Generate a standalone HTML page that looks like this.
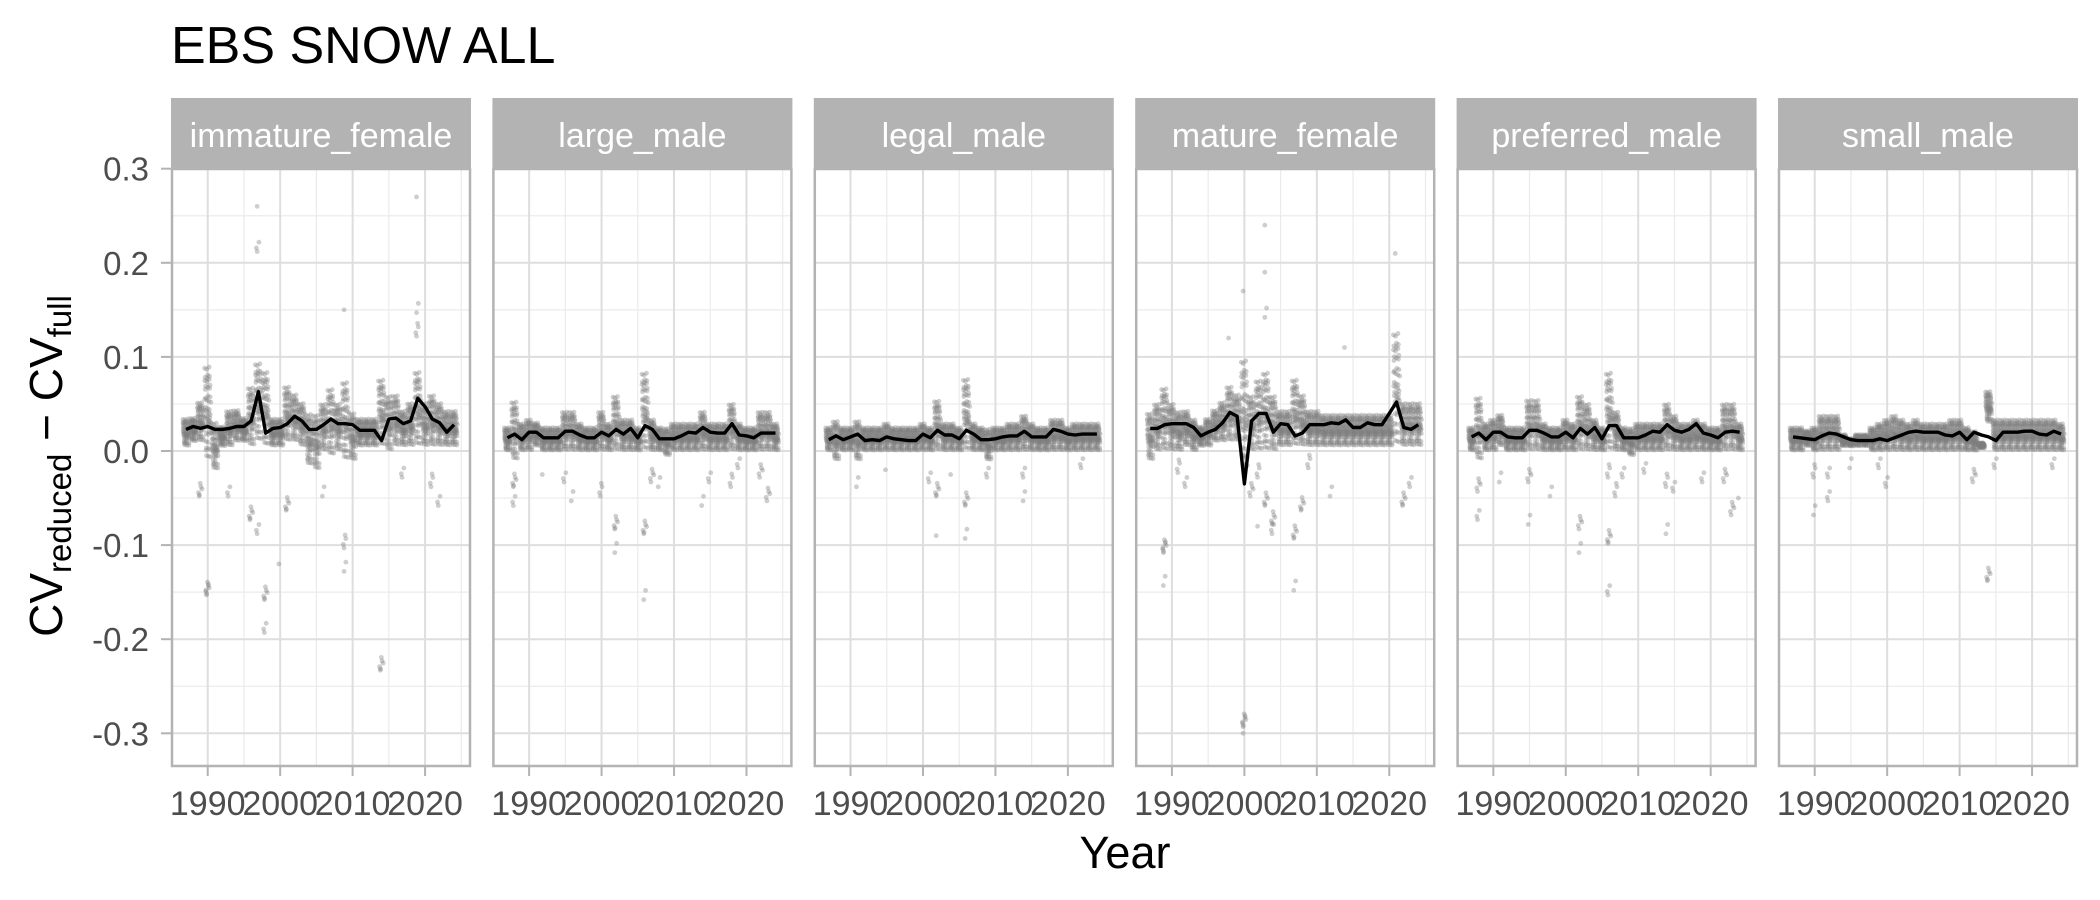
<!DOCTYPE html>
<html><head><meta charset="utf-8"><style>
body{margin:0;background:#fff;}
svg{display:block;font-family:"Liberation Sans",Arial,sans-serif;}
</style></head><body>
<svg id="chart" width="2100" height="900" xmlns="http://www.w3.org/2000/svg">
<rect width="2100" height="900" fill="#fff"/>
<text x="171" y="63" font-size="52" fill="#000">EBS SNOW ALL</text>
<text x="1125" y="868" font-size="45" text-anchor="middle" fill="#000">Year</text>
<text transform="translate(62,466) rotate(-90)" text-anchor="middle" font-size="46" fill="#000">CV<tspan font-size="33" dy="9">reduced</tspan><tspan dy="-9"> − CV</tspan><tspan font-size="33" dy="9">full</tspan></text>
<g id="panels"></g>
</svg>
<script>
const panelNames = ["immature_female","large_male","legal_male","mature_female","preferred_male","small_male"];
const years = [1987,1988,1989,1990,1991,1992,1993,1994,1995,1996,1997,1998,1999,2000,2001,2002,2003,2004,2005,2006,2007,2008,2009,2010,2011,2012,2013,2014,2015,2016,2017,2018,2019,2020,2021,2022,2023,2024];
const yTicks = [0.3,0.2,0.1,0.0,-0.1,-0.2,-0.3];
const yTickLabels = ["0.3","0.2","0.1","0.0","-0.1","-0.2","-0.3"];
const xTicks = [1990,2000,2010,2020];
const xTickLabels = ["1990","2000","2010","2020"];
const yMinor = [0.25,0.15,0.05,-0.05,-0.15,-0.25];
const xMinor = [1995,2005,2015,2025];

const meanImmatureFemale = [.023,.026,.024,.026,.023,.023,.024,.026,.026,.032,.063,.019,.024,.025,.029,.037,.032,.023,.023,.028,.034,.029,.029,.028,.022,.022,.022,.011,.034,.035,.029,.032,.056,.047,.034,.030,.020,.028];
const meanLargeMale = [.014,.018,.012,.020,.020,.014,.014,.014,.021,.021,.017,.014,.014,.020,.016,.023,.018,.024,.014,.027,.023,.013,.013,.013,.016,.020,.019,.025,.020,.019,.019,.029,.017,.016,.014,.019,.019,.019];
const meanLegalMale = [.012,.016,.012,.015,.018,.011,.012,.011,.015,.013,.012,.011,.011,.018,.014,.022,.017,.017,.013,.022,.018,.012,.012,.013,.015,.016,.016,.021,.015,.015,.015,.023,.021,.018,.017,.018,.018,.018];
const meanMatureFemale = [.024,.024,.028,.029,.029,.029,.025,.016,.020,.023,.030,.041,.037,-.035,.032,.040,.040,.020,.029,.028,.016,.019,.028,.028,.028,.030,.029,.033,.025,.025,.030,.028,.028,.040,.052,.025,.023,.028];
const meanPreferredMale = [.015,.019,.012,.020,.020,.015,.014,.014,.022,.022,.019,.015,.015,.020,.014,.024,.018,.025,.013,.027,.027,.014,.014,.014,.017,.021,.020,.028,.022,.020,.023,.029,.019,.017,.014,.020,.021,.020];
const meanSmallMale = [.015,.014,.013,.012,.016,.019,.018,.015,.012,.011,.011,.011,.013,.011,.014,.017,.020,.021,.020,.020,.020,.017,.016,.020,.012,.020,.017,.015,.011,.020,.020,.020,.021,.021,.018,.017,.021,.018];

const hiImmatureFemale = [.04,.04,.06,.11,.04,.03,.05,.05,.04,.08,.11,.10,.04,.04,.08,.07,.06,.05,.05,.06,.08,.06,.09,.05,.04,.04,.04,.09,.07,.07,.05,.06,.10,.06,.07,.06,.05,.05];
const loImmatureFemale = [.005,.01,.01,-.01,-.02,.005,.005,.01,.01,.005,.01,.005,.005,.005,.01,.01,.005,-.015,-.02,.0,-.005,.0,-.01,-.01,.005,.005,.005,.005,.0,.005,.005,.005,.005,.005,.005,.005,.005,.005];
const hiLargeMale = [.03,.065,.035,.04,.035,.03,.03,.03,.05,.05,.035,.03,.03,.05,.035,.07,.04,.04,.03,.10,.04,.03,.03,.035,.035,.035,.035,.05,.035,.035,.035,.06,.035,.03,.03,.05,.05,.035];
const loLargeMale = [.0,-.01,.0,.0,.005,.0,.0,.0,.0,.0,.0,.0,.0,.0,.0,.0,.0,.0,.0,.0,.0,.0,-.005,.0,.0,.0,.0,.0,.0,.0,.0,.0,.0,.0,.0,.0,.0,.0];
const hiLegalMale = [.03,.04,.03,.03,.04,.03,.03,.03,.035,.03,.03,.03,.03,.035,.03,.064,.035,.035,.03,.092,.035,.03,.03,.03,.03,.035,.035,.045,.035,.03,.03,.04,.04,.03,.035,.035,.035,.035];
const loLegalMale = [.0,-.01,.0,.0,-.01,.0,.0,.0,.0,.0,.0,.0,.0,.0,.0,.0,.0,.0,.0,.0,.0,.0,-.01,.0,.0,.0,.0,.0,.0,.0,.0,.0,.0,.0,.0,.0,.0,.0];
const hiMatureFemale = [.05,.06,.08,.06,.05,.05,.04,.03,.04,.05,.06,.08,.07,.12,.07,.09,.10,.07,.05,.05,.09,.07,.05,.05,.045,.045,.045,.045,.045,.045,.045,.045,.045,.045,.15,.06,.06,.06];
const loMatureFemale = [-.01,.0,.0,.0,.0,.005,.0,.005,.005,.01,.01,.01,.01,-.02,.0,.0,.0,.0,.005,.005,.005,.005,.005,.005,.005,.005,.005,.005,.005,.005,.005,.005,.005,.005,.005,.005,.005,.005];
const hiPreferredMale = [.03,.07,.035,.04,.045,.03,.03,.03,.065,.065,.035,.03,.03,.04,.035,.07,.06,.04,.03,.10,.05,.03,.03,.035,.035,.035,.035,.06,.045,.035,.035,.04,.035,.03,.03,.06,.06,.035];
const loPreferredMale = [.0,-.01,.0,.0,.005,.0,.0,.0,.0,.0,.0,.0,.0,.0,.0,.0,.0,.0,.0,.0,.0,.0,-.005,.0,.0,.0,.0,.0,.0,.0,.0,.0,.0,.0,.0,.0,.0,.0];
const hiSmallMale = [.03,.03,.025,.03,.045,.045,.045,.02,.015,.02,.02,.03,.035,.04,.045,.04,.035,.04,.035,.035,.035,.035,.04,.04,.03,.025,.01,.07,.04,.04,.04,.04,.04,.04,.04,.04,.04,.035];
const loSmallMale = [.0,.0,.005,.0,.0,.0,.0,.005,.005,.005,.005,.0,.0,.0,.0,.0,.0,.0,.0,.0,.0,.0,.0,.0,.0,.0,.003,.03,.0,.0,.0,.0,.0,.0,.0,.0,.0,.0];

const outImmatureFemale = [[1989,-0.04,6],[1990,-0.145,8],[1996,-0.065,6],[1997,-0.08,3],[1998,-0.15,6],[1998,-0.185,3],[1997,0.22,3],[1997,0.26,1],[2001,-0.055,6],[2009,-0.095,4],[2009,-0.12,2],[2014,-0.225,6],[2019,0.27,1],[2019,0.13,4],[2019,0.155,2],[2021,-0.03,4],[2022,-0.05,3],[2006,-0.04,2],[2000,-0.12,1],[2009,0.15,1],[1993,-0.04,3],[2017,-0.02,3]];
const outLargeMale = [[1988,-0.03,6],[1988,-0.05,3],[1992,-0.025,1],[1995,-0.025,3],[1996,-0.045,2],[2000,-0.04,4],[2002,-0.075,6],[2002,-0.1,2],[2006,-0.08,6],[2006,-0.15,2],[2007,-0.025,5],[2008,-0.03,2],[2014,-0.05,2],[2015,-0.025,3],[2018,-0.03,4],[2019,-0.01,3],[2022,-0.02,5],[2023,-0.045,5]];
const outLegalMale = [[1991,-0.03,2],[2001,-0.025,3],[2002,-0.04,6],[2002,-0.09,1],[2006,-0.05,6],[2006,-0.085,2],[2009,-0.02,3],[2014,-0.02,3],[2014,-0.045,2],[2022,-0.01,3],[1995,-0.02,1],[2004,-0.025,1]];
const outMatureFemale = [[1989,-0.1,8],[1989,-0.135,2],[1991,-0.015,4],[1992,-0.03,3],[2000,-0.285,8],[2000,-0.3,1],[2001,-0.04,5],[2002,-0.02,4],[2003,-0.05,6],[2004,-0.07,6],[2004,-0.08,3],[2007,-0.085,6],[2007,-0.14,2],[2008,-0.055,6],[2009,-0.01,4],[2012,-0.04,2],[2022,-0.05,6],[2023,-0.03,3],[2003,0.24,1],[2003,0.19,1],[2003,0.15,2],[2000,0.17,1],[2021,0.21,1],[1998,0.12,1],[2002,-0.08,1],[2014,0.11,1]];
const outPreferredMale = [[1988,-0.035,5],[1988,-0.065,3],[1991,-0.025,2],[1995,-0.025,5],[1995,-0.07,2],[1998,-0.04,2],[2002,-0.075,5],[2002,-0.1,2],[2006,-0.09,6],[2006,-0.145,3],[2006,-0.02,4],[2007,-0.04,4],[2008,-0.02,3],[2011,-0.015,3],[2014,-0.03,4],[2014,-0.08,2],[2015,-0.035,3],[2019,-0.025,3],[2022,-0.025,5],[2023,-0.06,5],[2024,-0.05,1]];
const outSmallMale = [[1990,-0.02,4],[1990,-0.06,2],[1992,-0.045,3],[1992,-0.02,3],[1995,-0.01,2],[1999,-0.01,3],[2000,-0.03,3],[2012,-0.025,5],[2014,-0.13,6],[2015,-0.01,3],[2023,-0.01,3]];

const means = [meanImmatureFemale,meanLargeMale,meanLegalMale,meanMatureFemale,meanPreferredMale,meanSmallMale];
const his = [hiImmatureFemale,hiLargeMale,hiLegalMale,hiMatureFemale,hiPreferredMale,hiSmallMale];
const los = [loImmatureFemale,loLargeMale,loLegalMale,loMatureFemale,loPreferredMale,loSmallMale];
const outs = [outImmatureFemale,outLargeMale,outLegalMale,outMatureFemale,outPreferredMale,outSmallMale];

const NS="http://www.w3.org/2000/svg";
const PX0=172, PSTEP=321.4, PW=298, PTOP=169, PBOT=766, STRIPTOP=98;
const XMIN=1985.07, XMAX=2026.2, YZERO=451, YPER=941;
function yS(v){return YZERO - v*YPER;}
function mk(tag,attrs,parent){const e=document.createElementNS(NS,tag);for(const k in attrs)e.setAttribute(k,attrs[k]);parent.appendChild(e);return e;}
const root=document.getElementById('panels');
const yAxis=mk('g',{},root);


yTicks.forEach((t,i)=>{
  mk('line',{x1:161,x2:172,y1:yS(t),y2:yS(t),stroke:'#B3B3B3','stroke-width':2},yAxis);
  const tx=mk('text',{x:149,y:yS(t)+12,'font-size':33,'text-anchor':'end',fill:'#4D4D4D'},yAxis);
  tx.textContent=yTickLabels[i];
});
panelNames.forEach((name,p)=>{
  const left=PX0+p*PSTEP;
  const xS=yr=>left+(yr-XMIN)/(XMAX-XMIN)*PW;
  const g=mk('g',{},root);
  
  
  mk('rect',{x:left,y:PTOP,width:PW,height:PBOT-PTOP,fill:'#fff'},g);
  yMinor.forEach(v=>mk('line',{x1:left,x2:left+PW,y1:yS(v),y2:yS(v),stroke:'#EBEBEB','stroke-width':1.2},g));
  xMinor.forEach(v=>{const x=xS(v);if(x<left+PW)mk('line',{x1:x,x2:x,y1:PTOP,y2:PBOT,stroke:'#EBEBEB','stroke-width':1.2},g);});
  yTicks.forEach(v=>mk('line',{x1:left,x2:left+PW,y1:yS(v),y2:yS(v),stroke:'#DEDEDE','stroke-width':2},g));
  xTicks.forEach(v=>mk('line',{x1:xS(v),x2:xS(v),y1:PTOP,y2:PBOT,stroke:'#DEDEDE','stroke-width':2},g));
  const pts=mk('g',{fill:'#7F7F7F','fill-opacity':0.38},g);
  
  
  years.forEach((yr,i)=>{
    const lo=los[p][i], hi=his[p][i], n=55;
    for(let k=0;k<n;k++){
      const u=(k*0.618034+0.11)%1, w=(k*0.754878+0.37)%1;
      const q=Math.pow((u+w)/2,1.25);
      const jx=((k*0.41421356+0.23)%1-0.5)*0.9;
      mk('circle',{cx:xS(yr+jx),cy:yS(lo+(hi-lo)*q),r:2.4},pts);
    }
  });
  outs[p].forEach(o=>{
    for(let k=0;k<o[2];k++){
      const d=((k*0.618034)%1-0.5)*0.016;
      const jx=((k*0.41421356+0.2)%1-0.5)*0.6;
      mk('circle',{cx:xS(o[0]+jx),cy:yS(o[1]+(o[2]>1?d:0)),r:2.4},pts);
    }
  });
  const d=means[p].map((v,i)=>(i?'L':'M')+xS(years[i]).toFixed(1)+','+yS(v).toFixed(1)).join(' ');
  const ln=mk('path',{d:d,fill:'none',stroke:'#000','stroke-width':3.4,'stroke-linejoin':'round'},g);
  
  
  mk('rect',{x:left,y:PTOP,width:PW,height:PBOT-PTOP,fill:'none',stroke:'#B3B3B3','stroke-width':2.5},g);
  const strip=mk('rect',{x:left-1,y:STRIPTOP,width:PW+2,height:PTOP-STRIPTOP,fill:'#B3B3B3'},g);
  
  
  const st=mk('text',{x:left+PW/2,y:147,'font-size':34,'text-anchor':'middle',fill:'#fff'},g);
  st.textContent=name;
  xTicks.forEach((v,i)=>{
    mk('line',{x1:xS(v),x2:xS(v),y1:PBOT,y2:PBOT+10,stroke:'#B3B3B3','stroke-width':2},g);
    const t=mk('text',{x:xS(v),y:815,'font-size':34,'text-anchor':'middle',fill:'#4D4D4D'},g);
    t.textContent=xTickLabels[i];
  });
});
</script>
</body></html>
